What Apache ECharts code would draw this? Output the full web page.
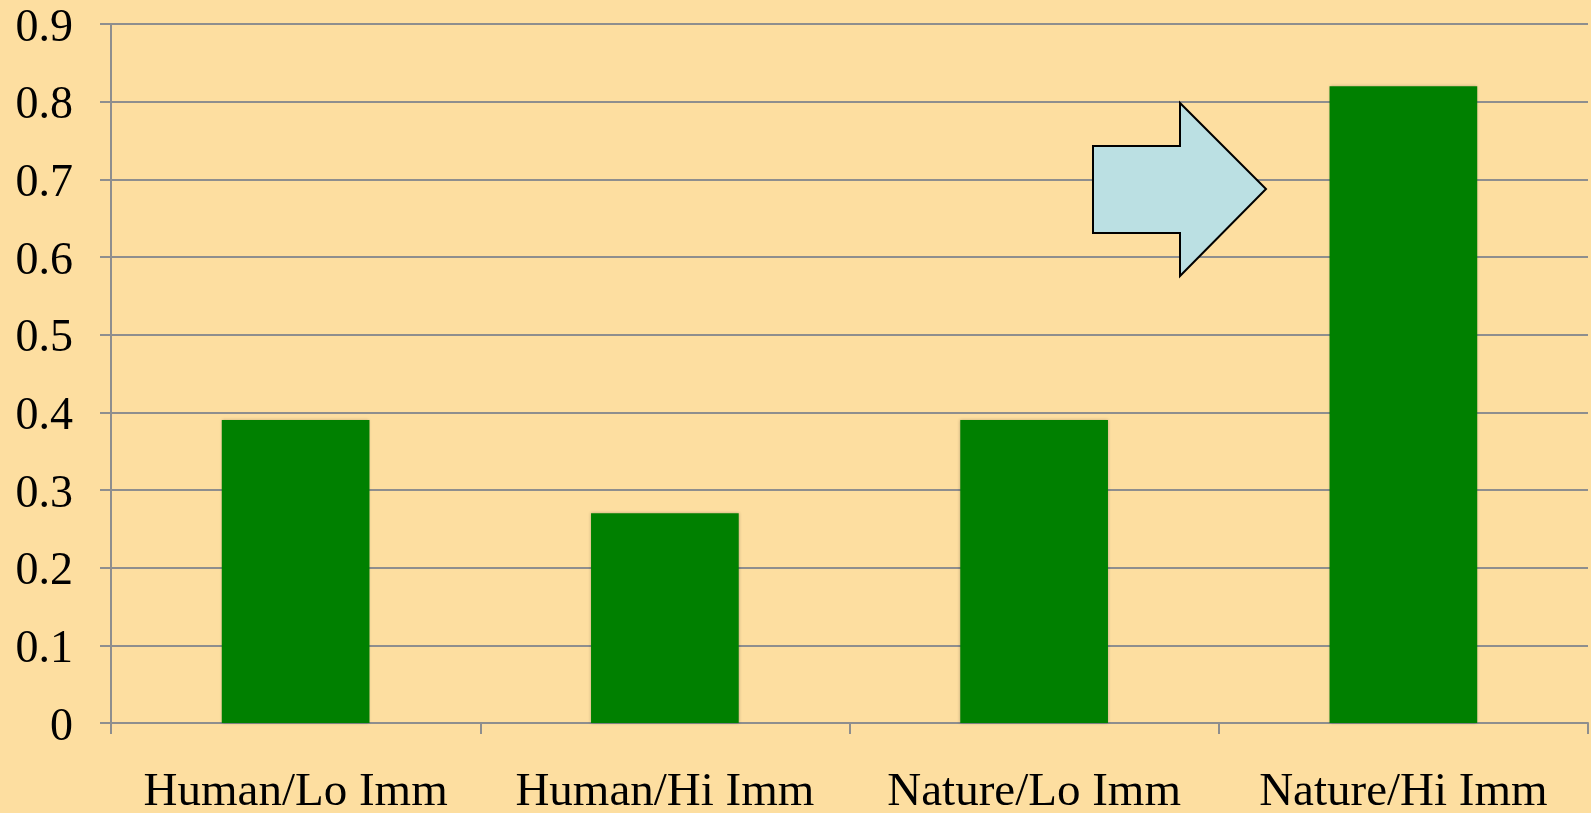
<!DOCTYPE html>
<html>
<head>
<meta charset="utf-8">
<script src="https://cdn.jsdelivr.net/npm/echarts@6/dist/echarts.min.js"></script>
<style>
  html, body { margin: 0; padding: 0; background: #FDDEA0; }
  #chart { width: 1591px; height: 813px; }
</style>
</head>
<body>
<div id="chart"></div>
<script>
// Conditions and their mean scores
const categories = ['Human/Lo Imm', 'Human/Hi Imm', 'Nature/Lo Imm', 'Nature/Hi Imm'];
const values = [0.39, 0.27, 0.39, 0.82];
const yTicks = { min: 0, max: 0.9, interval: 0.1 };

const font = '"Liberation Serif", "Times New Roman", serif';
const chart = echarts.init(document.getElementById('chart'));

chart.setOption({
  backgroundColor: '#FDDEA0',
  animation: false,
  grid: { left: 111, right: 3, top: 24, bottom: 90, outerBoundsMode: 'none', containLabel: false },
  xAxis: {
    type: 'category',
    data: categories,
    axisLine: { lineStyle: { color: '#8E8E8E', width: 2 } },
    axisTick: { show: true, length: 11, alignWithLabel: false, lineStyle: { color: '#8E8E8E', width: 2 } },
    axisLabel: { color: '#000', fontFamily: font, fontSize: 47, margin: 46, interval: 0 }
  },
  yAxis: {
    type: 'value',
    min: yTicks.min,
    max: yTicks.max,
    interval: yTicks.interval,
    axisLine: { show: true, lineStyle: { color: '#8E8E8E', width: 2 } },
    axisTick: { show: true, length: 11, lineStyle: { color: '#8E8E8E', width: 2 } },
    splitLine: { lineStyle: { color: '#8E8E8E', width: 2 } },
    axisLabel: {
      color: '#000', fontFamily: font, fontSize: 46, margin: 38,
      verticalAlign: 'top', lineHeight: 9,
      formatter: v => (Math.round(v * 10) / 10).toString()
    }
  },
  series: [{
    type: 'bar',
    data: values,
    barWidth: '40%',
    itemStyle: {
      color: '#008000',
      shadowColor: 'rgba(0,0,0,0.25)',
      shadowBlur: 3
    }
  }],
  graphic: [{
    type: 'polygon',
    z: 100,
    shape: {
      points: [
        [1093, 146], [1180, 146], [1180, 103], [1266, 189],
        [1180, 276], [1180, 233], [1093, 233]
      ]
    },
    style: { fill: '#BBE0E3', stroke: '#000', lineWidth: 2 }
  }]
});
</script>
</body>
</html>
